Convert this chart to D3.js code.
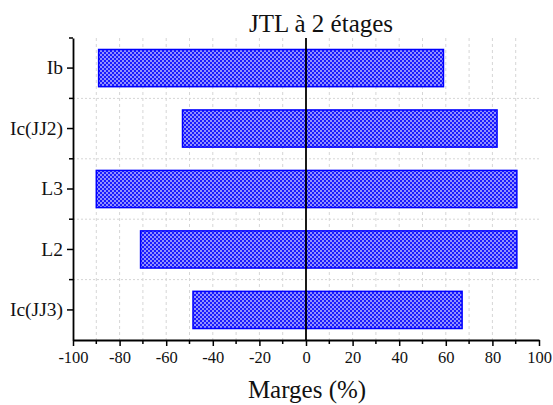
<!DOCTYPE html>
<html>
<head>
<meta charset="utf-8">
<script src="https://cdn.jsdelivr.net/npm/d3@7"></script>
<style>
  html, body { margin: 0; padding: 0; background: #fff; }
  svg { display: block; }
  svg text { font-family: "Liberation Serif", "Times New Roman", serif !important; fill: #111; }
</style>
</head>
<body>
<svg id="chart" width="553" height="405"></svg>
<script>
const categories = ["Ib", "Ic(JJ2)", "L3", "L2", "Ic(JJ3)"];
const negValues = [-89, -53, -90, -71, -48.5];
const posValues = [59, 82, 90.5, 90.5, 67];
const xTicks = [-100, -80, -60, -40, -20, 0, 20, 40, 60, 80, 100];
const xMinorTicks = d3.range(-90, 100, 20);
const gridValues = d3.range(-90, 100, 10).filter(v => v !== 0);
const title = "JTL à 2 étages";
const xTitle = "Marges (%)";

const svg = d3.select("#chart");
const m = { left: 73, right: 539, top: 38, bottom: 340 };

const x = d3.scaleLinear().domain([-100, 100]).range([m.left, m.right]);
const y = d3.scaleBand().domain(categories).range([m.top, m.bottom])
  .paddingInner(0.385).paddingOuter(0.19);

// pattern
const defs = svg.append("defs");
const pat = defs.append("pattern").attr("id", "hatch")
  .attr("width", 4).attr("height", 4).attr("patternUnits", "userSpaceOnUse");
pat.append("rect").attr("width", 4).attr("height", 4).attr("fill", "#1a1aff");
pat.append("rect").attr("x", 2).attr("y", 0).attr("width", 2).attr("height", 2).attr("fill", "#9090ff");
pat.append("rect").attr("x", 0).attr("y", 2).attr("width", 2).attr("height", 2).attr("fill", "#9090ff");

// grid
const boundaries = d3.range(1, categories.length).map(i => m.top + i * (m.bottom - m.top) / categories.length);
svg.append("g").selectAll("line").data(gridValues).join("line")
  .attr("x1", d => x(d)).attr("x2", d => x(d))
  .attr("y1", m.top).attr("y2", m.bottom)
  .attr("stroke", "#d6d6d6").attr("stroke-width", 1).attr("stroke-dasharray", "3,3");
svg.append("g").selectAll("line").data(boundaries).join("line")
  .attr("x1", m.left).attr("x2", m.right)
  .attr("y1", d => d).attr("y2", d => d)
  .attr("stroke", "#d6d6d6").attr("stroke-width", 1).attr("stroke-dasharray", "2,2");

// bars
const bars = svg.append("g");
categories.forEach((c, i) => {
  [[negValues[i], 0], [0, posValues[i]]].forEach(([a, b]) => {
    bars.append("rect")
      .attr("x", x(Math.min(a, b)))
      .attr("y", y(c))
      .attr("width", Math.abs(x(b) - x(a)))
      .attr("height", y.bandwidth())
      .attr("fill", "url(#hatch)")
      .attr("stroke", "#0000ff").attr("stroke-width", 1.5);
  });
});

// zero line
svg.append("line").attr("x1", x(0)).attr("x2", x(0)).attr("y1", m.top).attr("y2", m.bottom)
  .attr("stroke", "#000").attr("stroke-width", 1.8);

// x axis
const xAxis = svg.append("g").attr("transform", `translate(0,${m.bottom})`)
  .call(d3.axisBottom(x).tickValues(xTicks).tickFormat(d => String(d)).tickSize(6).tickPadding(5).tickSizeOuter(0))
  .attr("font-family", null).attr("font-size", 16.5);
xAxis.select(".domain").attr("stroke-width", 1.8);
xAxis.selectAll(".tick line").attr("stroke-width", 1.5);
xAxis.selectAll(".tick text").attr("fill", "#111");
svg.append("g").selectAll("line").data(xMinorTicks).join("line")
  .attr("x1", d => x(d)).attr("x2", d => x(d))
  .attr("y1", m.bottom).attr("y2", m.bottom + 4)
  .attr("stroke", "#000").attr("stroke-width", 1.5);

// y axis
const yAxis = svg.append("g").attr("transform", `translate(${m.left},0)`)
  .call(d3.axisLeft(y).tickSize(6).tickPadding(4).tickSizeOuter(0))
  .attr("font-family", null).attr("font-size", 19.5);
yAxis.select(".domain").attr("stroke-width", 1.8);
yAxis.selectAll(".tick line").attr("stroke-width", 1.5);
yAxis.selectAll(".tick text").attr("fill", "#111");
svg.append("g").selectAll("line").data([m.top, ...boundaries]).join("line")
  .attr("x1", m.left - 4).attr("x2", m.left)
  .attr("y1", d => d).attr("y2", d => d)
  .attr("stroke", "#000").attr("stroke-width", 1.5);

// titles
svg.append("text").attr("x", 321).attr("y", 32).attr("text-anchor", "middle")
  .attr("font-size", 25).text(title);
svg.append("text").attr("x", 307).attr("y", 398).attr("text-anchor", "middle")
  .attr("font-size", 25).text(xTitle);
</script>
</body>
</html>
